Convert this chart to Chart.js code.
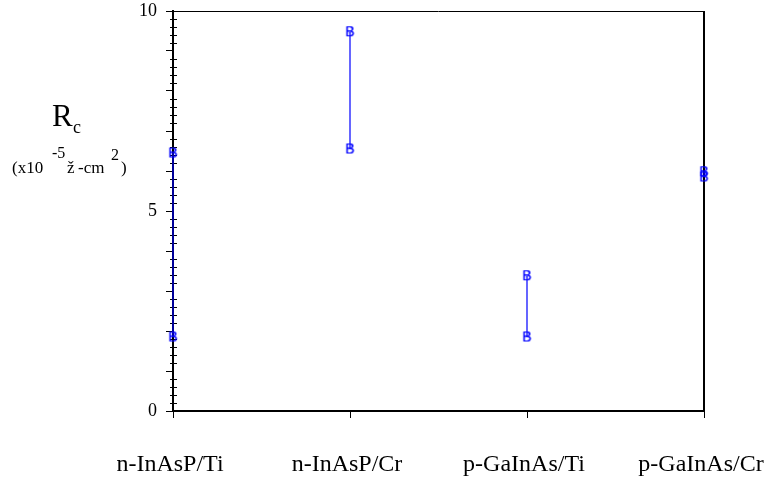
<!DOCTYPE html>
<html lang="en">
<head>
    <meta charset="UTF-8">
    <title>Contact resistance</title>
    <style>
        html, body { margin: 0; padding: 0; background: #fff; }
        #wrap { width: 772px; height: 477px; }
    </style>
</head>
<body>
    <div id="wrap"><canvas id="rcChart" width="772" height="477"></canvas></div>

    <script src="https://cdn.jsdelivr.net/npm/chart.js"></script>
    <script>
        // values
        const categories = ['n-InAsP/Ti', 'n-InAsP/Cr', 'p-GaInAs/Ti', 'p-GaInAs/Cr'];
        const upperValues = [6.45, 9.48, 3.38, 5.98];
        const lowerValues = [1.85, 6.55, 1.85, 5.85];
        const yLabelledTicks = [0, 5, 10];

        const serif = '"Liberation Serif", "DejaVu Serif", serif';

        // "B" marker as in the old plotting program
        const markerB = document.createElement('canvas');
        markerB.width = 11;
        markerB.height = 13;
        const mctx = markerB.getContext('2d');
        mctx.fillStyle = '#0000ff';
        mctx.font = '14px "Liberation Sans", Arial, sans-serif';
        mctx.textAlign = 'center';
        mctx.textBaseline = 'middle';
        mctx.fillText('B', 5.5, 7);
        mctx.fillText('B', 5.5, 7);

        const datasets = categories.map((c, i) => ({
            label: c,
            data: [{ x: i, y: upperValues[i] }, { x: i, y: lowerValues[i] }],
            showLine: true,
            borderColor: '#0000ff',
            borderWidth: 1.2,
            pointStyle: markerB,
            clip: false
        }));

        // frame, minor ticks and the y title
        const extras = {
            id: 'extras',
            beforeDatasetsDraw(chart) {
                const { ctx, chartArea: a, scales: { y } } = chart;
                ctx.save();
                ctx.strokeStyle = '#000';
                ctx.lineWidth = 1;
                ctx.beginPath();
                ctx.moveTo(a.left, a.top + 0.5);
                ctx.lineTo(a.right, a.top + 0.5);
                ctx.stroke();
                ctx.lineWidth = 2;
                ctx.beginPath();
                ctx.moveTo(a.right, a.top);
                ctx.lineTo(a.right, a.bottom);
                ctx.stroke();
                // minor ticks every 0.2
                ctx.lineWidth = 1;
                ctx.beginPath();
                for (let k = 1; k < 50; k++) {
                    if (k % 5 === 0) continue;
                    const py = Math.round(y.getPixelForValue(k * 0.2)) + 0.5;
                    ctx.moveTo(a.left - 3, py);
                    ctx.lineTo(a.left + 4, py);
                }
                ctx.stroke();
                ctx.restore();
            },
            afterDraw(chart) {
                const ctx = chart.ctx;
                ctx.save();
                ctx.fillStyle = '#000';
                ctx.textBaseline = 'alphabetic';
                ctx.font = '31px ' + serif;
                ctx.fillText('R', 52, 126);
                ctx.font = '18px ' + serif;
                ctx.fillText('c', 73, 133);
                ctx.font = '17px ' + serif;
                ctx.fillText('(x10', 12, 173);
                ctx.fillText('ž', 67, 173);
                ctx.fillText('-cm', 78, 173);
                ctx.fillText(')', 121, 173);
                ctx.font = '16px ' + serif;
                ctx.fillText('-5', 52, 158);
                ctx.fillText('2', 111, 160);
                ctx.restore();
            }
        };

        new Chart(document.getElementById('rcChart'), {
            type: 'scatter',
            data: { datasets },
            options: {
                responsive: false,
                animation: false,
                events: [],
                layout: { padding: { left: 0, right: 68, top: 11, bottom: 0 } },
                plugins: { legend: { display: false }, tooltip: { enabled: false } },
                scales: {
                    x: {
                        type: 'linear',
                        min: 0,
                        max: 3,
                        afterFit: s => { s.height = 66; s.paddingLeft = 0; s.paddingRight = 0; },
                        border: { display: true, color: '#000', width: 2 },
                        grid: { drawOnChartArea: false, drawTicks: true, tickLength: 7, color: '#000' },
                        ticks: {
                            stepSize: 1,
                            padding: 32,
                            labelOffset: -3,
                            maxRotation: 0,
                            color: '#000',
                            font: { family: serif, size: 24 },
                            callback: v => categories[v] ?? ''
                        }
                    },
                    y: {
                        min: 0,
                        max: 10,
                        afterFit: s => { s.width = 173; s.paddingTop = 0; s.paddingBottom = 0; },
                        border: { display: true, color: '#000', width: 2 },
                        grid: { drawOnChartArea: false, drawTicks: true, tickLength: 7, color: '#000' },
                        ticks: {
                            stepSize: 1,
                            padding: 9,
                            color: '#000',
                            font: { family: serif, size: 18 },
                            callback: v => yLabelledTicks.includes(v) ? String(v) : ''
                        }
                    }
                }
            },
            plugins: [extras]
        });
    </script>
</body>
</html>
